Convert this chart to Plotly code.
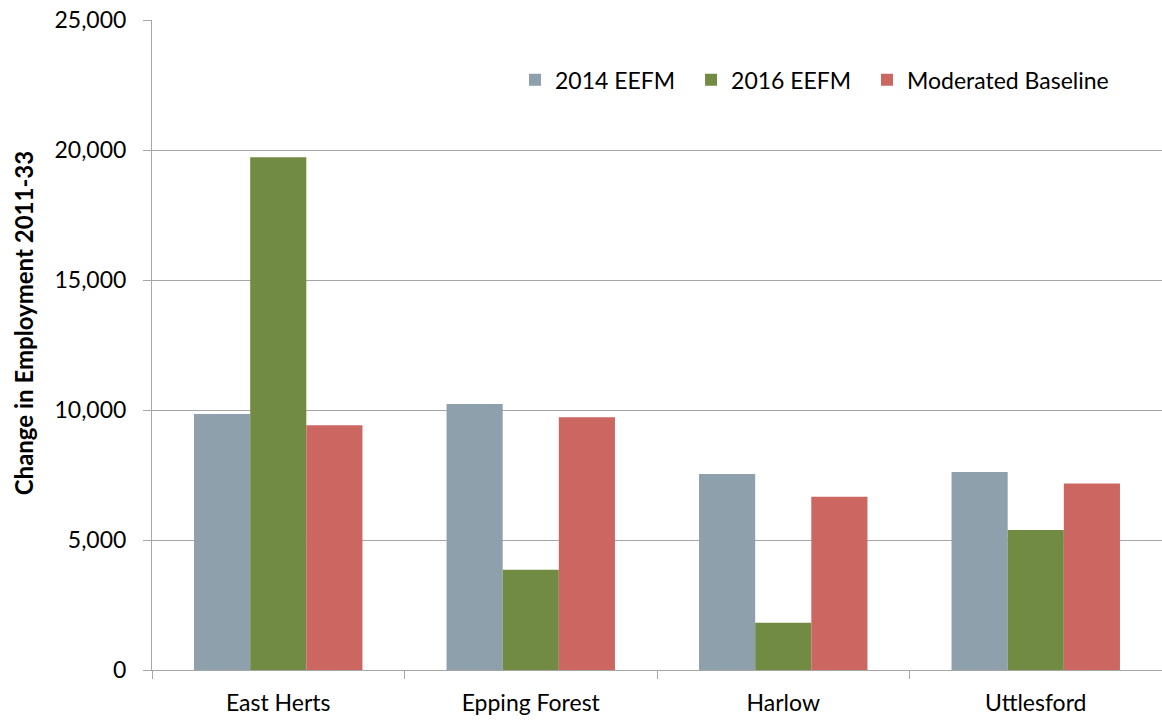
import plotly.graph_objects as go

categories = ["East Herts", "Epping Forest", "Harlow", "Uttlesford"]
series_names = ["2014 EEFM", "2016 EEFM", "Moderated Baseline"]
eefm_2014 = [9850, 10230, 7540, 7620]
eefm_2016 = [19720, 3860, 1820, 5380]
moderated = [9410, 9720, 6660, 7170]
colors = ["#8EA0AB", "#718B43", "#CC6660"]
y_ticks = [0, 5000, 10000, 15000, 20000, 25000]
y_tick_labels = ["0", "5,000", "10,000", "15,000", "20,000", "25,000"]
y_title = "Change in Employment 2011-33"

FONT = "Lato"
legend_ids = ["legend", "legend2", "legend3"]
legend_x = [0.3594, 0.5337, 0.7079]

fig = go.Figure()
for name, vals, col, lid in zip(series_names, [eefm_2014, eefm_2016, moderated], colors, legend_ids):
    fig.add_trace(go.Bar(name=name, x=categories, y=vals, legend=lid,
                         marker=dict(color=col, line=dict(width=0))))

legend_common = dict(orientation="h", y=0.908, xanchor="left", yanchor="middle",
                     font=dict(family=FONT, size=23, color="#000000"),
                     bgcolor="rgba(0,0,0,0)", borderwidth=0)
fig.update_layout(
    width=1162, height=720,
    margin=dict(l=152, r=0, t=20, b=50),
    paper_bgcolor="white", plot_bgcolor="white",
    barmode="group", bargap=0.333, bargroupgap=0,
    font=dict(family=FONT, size=23, color="#000000"),
    legend=dict(x=legend_x[0], **legend_common),
    legend2=dict(x=legend_x[1], **legend_common),
    legend3=dict(x=legend_x[2], **legend_common),
    showlegend=True,
)
fig.add_annotation(text="<b>" + y_title + "</b>", textangle=-90,
                   xref="paper", yref="paper", x=-0.1272, y=0.5327,
                   xanchor="center", yanchor="middle", showarrow=False,
                   font=dict(family=FONT, size=24, color="#000000"))
fig.update_yaxes(
    range=[0, 25000], tickvals=y_ticks, ticktext=y_tick_labels,
    showgrid=True, gridcolor="#A6A6A6", gridwidth=1,
    showline=True, linecolor="#A6A6A6", linewidth=1,
    ticks="outside", ticklen=8, tickcolor="#A6A6A6",
    tickfont=dict(family=FONT, size=23), ticklabelstandoff=12,
    zeroline=False,
)
fig.update_xaxes(
    showline=True, linecolor="#A6A6A6", linewidth=1,
    ticks="outside", ticklen=8, tickcolor="#A6A6A6", tickson="boundaries",
    tickfont=dict(family=FONT, size=23), ticklabelstandoff=12,
)
fig.write_html("out.html")
